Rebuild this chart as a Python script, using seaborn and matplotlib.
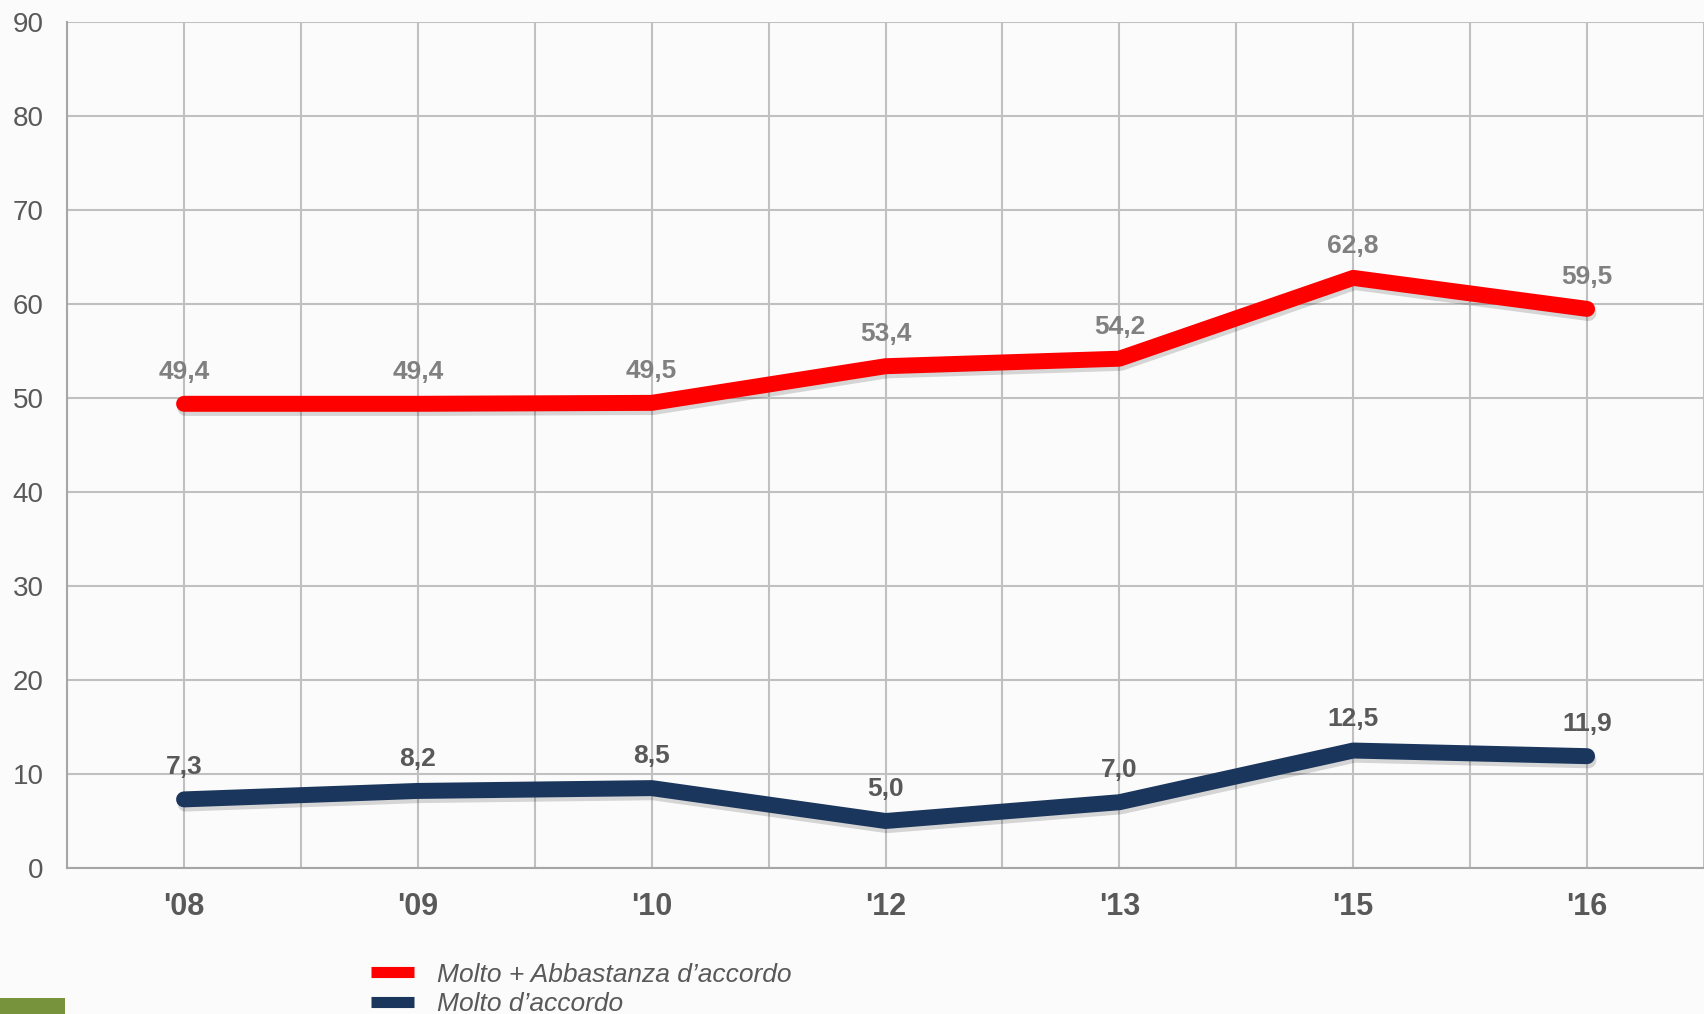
import numpy as np
import pandas as pd
import matplotlib
matplotlib.use("Agg")
import matplotlib.pyplot as plt
import matplotlib.patheffects as pe
from matplotlib.lines import Line2D
from matplotlib.patches import Rectangle
import seaborn as sns

# dati
anni = ["'08", "'09", "'10", "'12", "'13", "'15", "'16"]
molto_abbastanza = [49.4, 49.4, 49.5, 53.4, 54.2, 62.8, 59.5]
molto = [7.3, 8.2, 8.5, 5.0, 7.0, 12.5, 11.9]
nomi_serie = ["Molto + Abbastanza d\u2019accordo", "Molto d\u2019accordo"]
y_ticks = [0, 10, 20, 30, 40, 50, 60, 70, 80, 90]

sns.set_theme(style="white")
plt.rcParams["font.family"] = ["Liberation Sans", "DejaVu Sans"]

rosso = "#ff0000"
blu = "#1b365d"
grigio_testo = "#595959"

fig = plt.figure(figsize=(17.04, 10.14), dpi=100, facecolor="#fbfbfb")
ax = fig.add_axes([0.0394, 0.144, 0.9606, 0.834])
ax.set_facecolor("#fbfbfb")

x = np.arange(len(anni))
ombra = [pe.SimpleLineShadow(offset=(1, -3), shadow_color="black", alpha=0.15), pe.Normal()]

sns.lineplot(x=x, y=molto_abbastanza, ax=ax, color=rosso, linewidth=11.5, sort=False,
             solid_capstyle="round", solid_joinstyle="round", path_effects=ombra, zorder=4)
sns.lineplot(x=x, y=molto, ax=ax, color=blu, linewidth=11.5, sort=False,
             solid_capstyle="round", solid_joinstyle="round", path_effects=ombra, zorder=4)

# etichette dei valori
for i, v in enumerate(molto_abbastanza):
    ax.annotate(f"{v:.1f}".replace(".", ","), (i, v), xytext=(0, 23), textcoords="offset points",
                ha="center", va="center", fontsize=19, fontweight="bold", color="#808080", zorder=5)
for i, v in enumerate(molto):
    ax.annotate(f"{v:.1f}".replace(".", ","), (i, v), xytext=(0, 23), textcoords="offset points",
                ha="center", va="center", fontsize=19, fontweight="bold", color=grigio_testo, zorder=5)

ax.set_xlim(-0.5, 6.46)
ax.set_ylim(0, 90)
ax.set_yticks(y_ticks)
ax.set_xticks(x)
ax.set_xticks(np.arange(-0.5, 7, 1.0), minor=True)
ax.set_xticklabels(anni, fontsize=22, fontweight="bold", color=grigio_testo)
ax.tick_params(axis="y", labelsize=20, labelcolor=grigio_testo, length=0, pad=17)
ax.tick_params(axis="x", which="both", length=0, pad=17)

ax.grid(True, which="both", color="#c0c0c0", linewidth=1.5)
ax.set_axisbelow(True)
for lato in ["top", "right"]:
    ax.spines[lato].set_visible(False)
for lato in ["left", "bottom"]:
    ax.spines[lato].set_color("#a6a6a6")
    ax.spines[lato].set_linewidth(1.5)

# legenda
maniglie = [Line2D([0], [0], color=rosso, linewidth=8, solid_capstyle="butt"),
            Line2D([0], [0], color=blu, linewidth=8, solid_capstyle="butt")]
leg = fig.legend(maniglie, nomi_serie, loc="upper left", bbox_to_anchor=(0.2114, 0.061),
                 frameon=False, handlelength=1.65, handletextpad=0.85, labelspacing=0.2,
                 prop={"size": 19, "style": "italic"}, borderaxespad=0)
for t in leg.get_texts():
    t.set_color(grigio_testo)

# rettangolo verde in basso a sinistra
fig.patches.append(Rectangle((0, 0), 0.038, 0.016, transform=fig.transFigure,
                             facecolor="#77933c", edgecolor="none"))

fig.savefig("out.png", dpi=100, facecolor=fig.get_facecolor())
